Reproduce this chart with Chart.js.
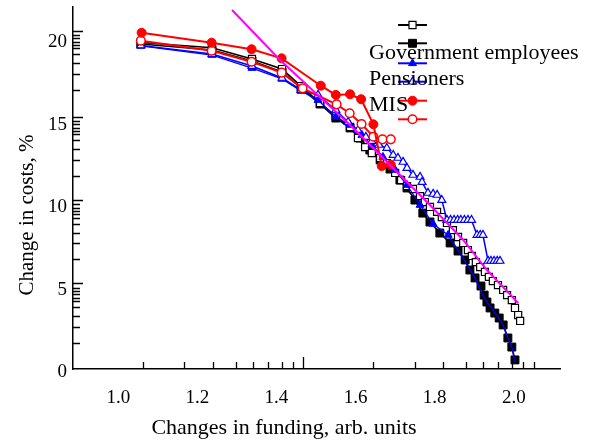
<!DOCTYPE html>
<html>
<head>
<meta charset="utf-8">
<script src="https://cdn.jsdelivr.net/npm/chart.js@4/dist/chart.umd.min.js"></script>
<style>
  html, body { margin: 0; padding: 0; background: #fff; }
  #wrap { width: 591px; height: 441px; }
</style>
</head>
<body>
<div id="wrap"><canvas id="c" width="591" height="441"></canvas></div>
<script>
// Government employees, open squares
const empOpenX = [1.057,1.237,1.338,1.414,1.462,1.510,1.550,1.586,1.606,1.624,1.641,1.662,1.679,1.700,1.715,1.730,1.745,1.763,1.775,1.788,1.806,1.818,1.831,1.846,1.859,1.872,1.884,1.894,1.904,1.915,1.927,1.937,1.947,1.960,1.973,1.983,1.995,2.003,2.011,2.016];
const empOpenY = [19.79,19.47,18.79,18.18,17.15,16.12,15.33,14.67,14.00,13.45,13.09,12.79,12.48,11.88,11.45,11.09,10.91,10.48,10.12,9.82,9.52,9.21,8.85,8.42,8.00,7.64,7.21,6.85,6.48,6.18,5.88,5.58,5.33,5.09,4.79,4.48,4.18,3.70,3.27,2.91];

// Government employees, filled squares
const empFilledX = [1.057,1.237,1.338,1.414,1.462,1.510,1.550,1.586,1.611,1.636,1.662,1.687,1.712,1.730,1.750,1.770,1.788,1.813,1.839,1.859,1.877,1.889,1.902,1.917,1.925,1.932,1.940,1.952,1.963,1.973,1.985,1.995,2.003];
const empFilledY = [19.70,19.33,18.67,18.00,17.03,16.06,15.21,14.61,14.00,13.27,12.67,12.12,11.45,10.97,10.24,9.45,8.91,8.24,7.64,7.15,6.61,6.00,5.52,5.03,4.48,4.06,3.70,3.39,3.09,2.67,1.88,1.33,0.55];

// Pensioners, filled triangles
const penFilledX = [1.057,1.237,1.338,1.414,1.462,1.505,1.550,1.586,1.616,1.641,1.669,1.700,1.730,1.763,1.796,1.834,1.859,1.879,1.902,1.915,1.932,1.947,1.960,1.973,1.985,1.995,2.003];
const penFilledY = [19.58,19.03,18.24,17.58,16.85,16.30,15.27,14.79,14.18,13.58,12.85,12.06,11.15,9.94,8.79,8.12,7.21,6.42,5.52,4.79,4.06,3.58,3.15,2.67,1.88,1.33,0.42];

// Pensioners, open triangles
const penOpenX = [1.057,1.237,1.338,1.414,1.462,1.505,1.550,1.581,1.606,1.626,1.641,1.659,1.679,1.695,1.707,1.720,1.730,1.745,1.763,1.768,1.783,1.796,1.806,1.818,1.831,1.840,1.849,1.858,1.866,1.875,1.884,1.893,1.907,1.915,1.922,1.935,1.942,1.950,1.958,1.965];
const penOpenY = [19.61,19.09,18.36,17.64,16.91,16.61,15.70,14.97,14.48,14.06,13.82,13.58,13.39,12.97,12.79,12.55,12.18,11.76,11.64,11.33,10.67,10.61,10.55,10.24,9.03,9.03,9.03,9.03,9.03,9.03,9.03,9.03,8.12,8.12,8.12,6.55,6.55,6.55,6.55,6.55];

// MIS, filled circles
const misFilledX = [1.059,1.236,1.337,1.413,1.512,1.550,1.586,1.614,1.645,1.666,1.689];
const misFilledY = [20.38,19.78,19.38,18.83,17.17,16.61,16.65,16.35,14.83,12.30,12.38];

// MIS, open circles
const misOpenX = [1.057,1.236,1.337,1.413,1.466,1.552,1.585,1.615,1.645,1.668,1.689];
const misOpenY = [19.90,19.29,18.62,17.96,17.01,16.04,15.50,14.85,14.08,13.92,13.92];

// Approximating curve
const fitX = [1.2875,1.409,1.586,1.788,1.872,1.932,2.011];
const fitY = [21.76,18.73,14.79,9.94,7.82,6.00,4.00];

// Axis labels and tick marks
const xTickLabels = [1.0,1.2,1.4,1.6,1.8,2.0];
const yTickLabels = [0,5,10,15,20];
const xTickMarks = [1.062,1.166,1.239,1.298,1.341,1.379,1.414,1.442,1.467,1.644,1.750,1.821,1.879,1.922,1.960,1.996,2.024,2.052];
const xLongMarks = [1.467];
const yLongMarks = [20.50,15.29,10.24,5.19];
const yMinorSteps = [0.26,0.46,0.67,0.87,1.07,1.43,1.98,2.62,3.59];

const legendNames = ["Government employees","Pensioners","MIS"];

const SERIF = '"Liberation Serif","Times New Roman",Times,serif';

function pts(xs, ys) { return xs.map((x, i) => ({ x: x, y: ys[i] })); }

const datasets = [
  { label: 'fit', data: pts(fitX, fitY), borderColor: '#ff00ff', borderWidth: 2, pointRadius: 0, order: 0 },
  { label: 'MIS filled', data: pts(misFilledX, misFilledY), borderColor: '#ff0000', borderWidth: 2,
    pointStyle: 'circle', pointRadius: 4.5, pointBackgroundColor: '#ff0000', pointBorderColor: '#ff0000', pointBorderWidth: 1, order: 1 },
  { label: 'MIS open', data: pts(misOpenX, misOpenY), borderColor: '#ff0000', borderWidth: 2,
    pointStyle: 'circle', pointRadius: 4.3, pointBackgroundColor: '#ffffff', pointBorderColor: '#ff0000', pointBorderWidth: 1.5, order: 2 },
  { label: 'Pensioners open', data: pts(penOpenX, penOpenY), borderColor: '#0000ff', borderWidth: 1.5,
    pointStyle: 'triangle', pointRadius: 4.6, pointBackgroundColor: '#ffffff', pointBorderColor: '#0000ff', pointBorderWidth: 1.2, order: 3 },
  { label: 'Pensioners filled', data: pts(penFilledX, penFilledY), borderColor: '#0000ff', borderWidth: 1.3,
    pointStyle: 'triangle', pointRadius: (c) => (c.dataIndex <= 15 ? 4.6 : 0),
    pointBackgroundColor: '#0000ff', pointBorderColor: '#0000ff', pointBorderWidth: 1, order: 4 },
  { label: 'Government employees open', data: pts(empOpenX, empOpenY), borderColor: '#000000', borderWidth: 1.6,
    pointStyle: 'rect', pointRadius: 5, pointBackgroundColor: '#ffffff', pointBorderColor: '#000000', pointBorderWidth: 1.2, order: 5 },
  { label: 'Government employees filled', data: pts(empFilledX, empFilledY), borderColor: '#000000', borderWidth: 1.6,
    pointStyle: 'rect', pointRadius: 5.6, pointBackgroundColor: '#000000', pointBorderColor: '#000000', pointBorderWidth: 1, order: 6 }
];

// marker drawing for the key, same shapes as the plotted points
function marker(ctx, style, r, x, y, fill, stroke, bw) {
  ctx.beginPath();
  if (style === 'circle') {
    ctx.arc(x, y, r, 0, Math.PI * 2);
  } else if (style === 'rect') {
    const s = r * Math.SQRT1_2;
    ctx.rect(x - s, y - s, 2 * s, 2 * s);
  } else {
    ctx.moveTo(x, y - r);
    ctx.lineTo(x + r * 0.866, y + r * 0.5);
    ctx.lineTo(x - r * 0.866, y + r * 0.5);
    ctx.closePath();
  }
  ctx.fillStyle = fill; ctx.fill();
  ctx.lineWidth = bw; ctx.strokeStyle = stroke; ctx.stroke();
}

const keyPlugin = {
  id: 'key',
  afterDraw(chart) {
    const ctx = chart.ctx;
    const order = [5, 6, 4, 3, 1, 2];
    const rows = [25, 43.3, 63.3, 81.7, 100.7, 119.3];
    ctx.save();
    order.forEach((di, k) => {
      const d = chart.data.datasets[di];
      const y = rows[k];
      ctx.beginPath();
      ctx.moveTo(398, y); ctx.lineTo(427, y);
      ctx.lineWidth = 2; ctx.strokeStyle = d.borderColor; ctx.stroke();
      const r = typeof d.pointRadius === 'function' ? 4.6 : d.pointRadius;
      marker(ctx, d.pointStyle, r, 412.5, y, d.pointBackgroundColor, d.pointBorderColor, d.pointBorderWidth);
    });
    ctx.fillStyle = '#000';
    ctx.font = '22px ' + SERIF;
    ctx.textAlign = 'left';
    ctx.textBaseline = 'alphabetic';
    ctx.fillText(legendNames[0], 369, 59.3);
    ctx.fillText(legendNames[1], 369, 85);
    ctx.fillText(legendNames[2], 369, 110.7);
    ctx.restore();
  }
};

// inward tick marks and axis titles
const axisPlugin = {
  id: 'axisMarks',
  afterDraw(chart) {
    const { ctx, chartArea: a, scales: { x, y } } = chart;
    ctx.save();
    ctx.strokeStyle = '#000';
    ctx.lineWidth = 1.3;
    ctx.beginPath();
    xTickMarks.forEach(v => {
      const px = Math.round(x.getPixelForValue(v)) + 0.5;
      const len = xLongMarks.includes(v) ? 12 : 7;
      ctx.moveTo(px, a.bottom); ctx.lineTo(px, a.bottom - len);
    });
    yLongMarks.forEach(m => {
      let py = Math.round(y.getPixelForValue(m)) + 0.5;
      ctx.moveTo(a.left, py); ctx.lineTo(a.left + 10, py);
      yMinorSteps.forEach(s => {
        const v = m - s;
        if (v <= 0.2) return;
        py = Math.round(y.getPixelForValue(v)) + 0.5;
        ctx.moveTo(a.left, py); ctx.lineTo(a.left + 7, py);
      });
    });
    ctx.stroke();

    ctx.fillStyle = '#000';
    ctx.textAlign = 'center';
    ctx.textBaseline = 'alphabetic';
    ctx.font = '22px ' + SERIF;
    ctx.fillText('Changes in funding, arb. units', 284, 434);
    ctx.font = '21px ' + SERIF;
    ctx.translate(33, 215);
    ctx.rotate(-Math.PI / 2);
    ctx.fillText('Change in costs, %', 0, 0);
    ctx.restore();
  }
};

new Chart(document.getElementById('c'), {
  type: 'line',
  data: { datasets: datasets },
  options: {
    responsive: false,
    animation: false,
    devicePixelRatio: 1,
    layout: { padding: { top: 7, right: 31, left: 0, bottom: 0 } },
    plugins: { legend: { display: false }, tooltip: { enabled: false } },
    elements: { line: { tension: 0 } },
    scales: {
      x: {
        type: 'linear',
        min: 0.8855, max: 2.1168,
        grid: { display: false, drawTicks: false, tickLength: 0 },
        border: { display: true, color: '#000', width: 1.5 },
        afterBuildTicks: (s) => { s.ticks = xTickLabels.map(v => ({ value: v })); },
        afterFit: (s) => { s.height = 72; s.paddingLeft = 0; s.paddingRight = 0; },
        ticks: { color: '#000', padding: 18, maxRotation: 0, autoSkip: false,
          font: { family: SERIF, size: 19 }, callback: (v) => Number(v).toFixed(1) }
      },
      y: {
        type: 'linear',
        min: 0, max: 21.94,
        grid: { display: false, drawTicks: false, tickLength: 0 },
        border: { display: true, color: '#000', width: 1.5 },
        afterBuildTicks: (s) => { s.ticks = yTickLabels.map(v => ({ value: v })); },
        afterFit: (s) => { s.width = 73; s.paddingTop = 0; s.paddingBottom = 0; },
        ticks: { color: '#000', padding: 6, labelOffset: 3.5, autoSkip: false,
          font: { family: SERIF, size: 19 }, callback: (v) => String(v) }
      }
    }
  },
  plugins: [axisPlugin, keyPlugin]
});
</script>
</body>
</html>
